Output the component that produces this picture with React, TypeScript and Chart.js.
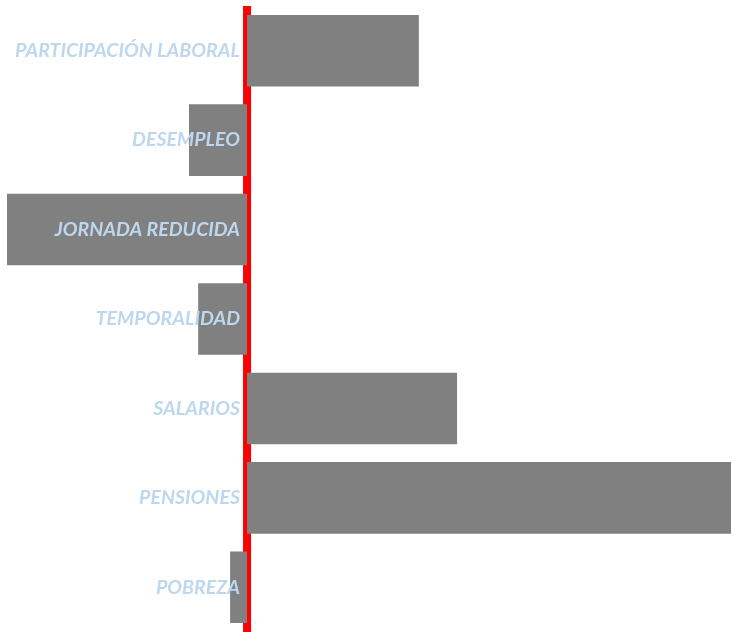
import React, { useEffect, useRef } from "react";
import { Chart, registerables } from "chart.js";

Chart.register(...registerables);

const categories = [
  "PARTICIPACIÓN LABORAL",
  "DESEMPLEO",
  "JORNADA REDUCIDA",
  "TEMPORALIDAD",
  "SALARIOS",
  "PENSIONES",
  "POBREZA",
];
const values = [3.55, -1.2, -4.96, -1.01, 4.34, 10, -0.35];
const axisMin = -4.96;
const axisMax = 10;

const zeroLinePlugin = {
  id: "zeroLine",
  beforeDatasetsDraw(chart: any) {
    const { ctx, chartArea, scales } = chart;
    const x = scales.x.getPixelForValue(0);
    ctx.save();
    ctx.fillStyle = "#FF0000";
    ctx.fillRect(x - 4, chartArea.top, 8, chartArea.bottom - chartArea.top);
    ctx.restore();
  },
  afterDatasetsDraw(chart: any) {
    const { ctx, scales } = chart;
    const x = scales.x.getPixelForValue(0) - 7;
    ctx.save();
    ctx.fillStyle = "#BDD7EE";
    ctx.font = "italic bold 19.6px Lato";
    ctx.textAlign = "right";
    ctx.textBaseline = "middle";
    (chart.data.labels as string[]).forEach((lbl, i) => {
      const y = scales.y.getPixelForValue(i);
      ctx.fillText(lbl, x, y);
    });
    ctx.restore();
  },
};

export default function App() {
  const ref = useRef<HTMLCanvasElement>(null);
  useEffect(() => {
    if (!ref.current) return;
    const chart = new Chart(ref.current, {
      type: "bar",
      data: {
        labels: categories,
        datasets: [
          {
            data: values,
            backgroundColor: "#808080",
            borderWidth: 0,
            categoryPercentage: 1,
            barPercentage: 0.8,
          },
        ],
      },
      options: {
        indexAxis: "y",
        animation: false,
        responsive: false,
        layout: { padding: { left: 7, right: 1, top: 6, bottom: 0 } },
        plugins: { legend: { display: false }, tooltip: { enabled: false } },
        scales: {
          x: { display: false, min: axisMin, max: axisMax },
          y: { display: false },
        },
      },
      plugins: [zeroLinePlugin],
    });
    return () => chart.destroy();
  }, []);
  return (
    <div style={{ position: "fixed", left: 0, top: 0, width: 732, height: 632, background: "#fff" }}>
      <canvas ref={ref} width={732} height={632} style={{ display: "block" }} />
    </div>
  );
}
